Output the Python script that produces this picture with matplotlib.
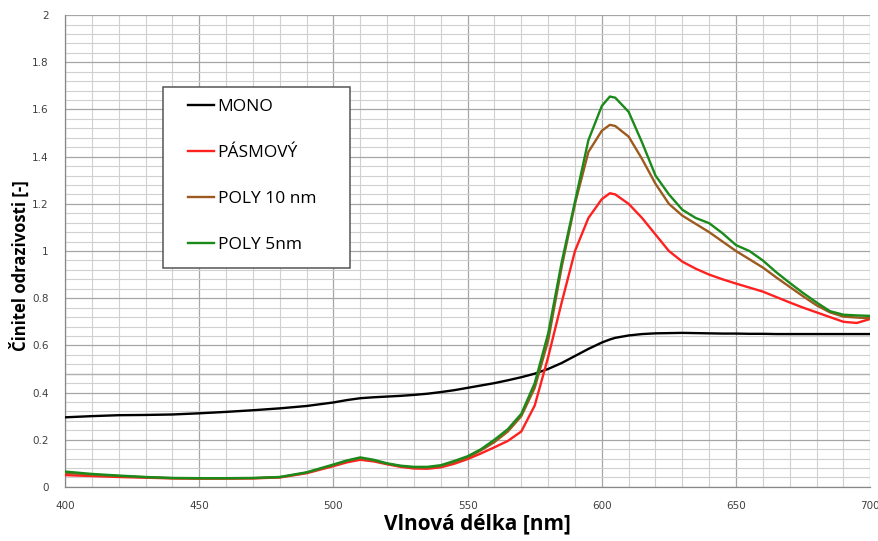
import numpy as np
import matplotlib
matplotlib.use("Agg")
import matplotlib.pyplot as plt
from matplotlib.ticker import MultipleLocator
from matplotlib.patches import Rectangle

# vlnova delka [nm]
wl = [400, 410, 420, 430, 440, 450, 460, 470, 480, 490, 500, 505, 510, 515, 520,
      525, 530, 535, 540, 545, 550, 555, 560, 565, 570, 575, 580, 585, 590, 595,
      600, 603, 605, 610, 615, 620, 625, 630, 635, 640, 645, 650, 655, 660, 665,
      670, 675, 680, 685, 690, 695, 700]

mono = [0.295, 0.300, 0.304, 0.305, 0.307, 0.312, 0.318, 0.325, 0.333, 0.343, 0.358,
        0.368, 0.376, 0.380, 0.383, 0.386, 0.390, 0.395, 0.402, 0.410, 0.420, 0.430,
        0.440, 0.452, 0.465, 0.480, 0.500, 0.525, 0.555, 0.585, 0.612, 0.625, 0.632,
        0.642, 0.648, 0.651, 0.652, 0.653, 0.652, 0.651, 0.650, 0.650, 0.649, 0.649,
        0.648, 0.648, 0.648, 0.648, 0.648, 0.648, 0.648, 0.648]

pasmovy = [0.050, 0.046, 0.042, 0.039, 0.036, 0.035, 0.035, 0.036, 0.040, 0.058, 0.088,
           0.104, 0.115, 0.108, 0.096, 0.085, 0.078, 0.077, 0.083, 0.098, 0.118, 0.142,
           0.168, 0.195, 0.235, 0.345, 0.550, 0.780, 1.000, 1.140, 1.220, 1.245, 1.240,
           1.200, 1.140, 1.070, 1.000, 0.955, 0.925, 0.900, 0.880, 0.862, 0.845, 0.828,
           0.805, 0.782, 0.760, 0.740, 0.720, 0.700, 0.695, 0.712]

poly10 = [0.060, 0.052, 0.046, 0.041, 0.037, 0.036, 0.036, 0.037, 0.041, 0.060, 0.092,
          0.110, 0.122, 0.112, 0.098, 0.088, 0.082, 0.082, 0.088, 0.105, 0.125, 0.155,
          0.190, 0.235, 0.300, 0.420, 0.620, 0.930, 1.200, 1.420, 1.510, 1.535, 1.530,
          1.485, 1.390, 1.285, 1.200, 1.150, 1.115, 1.080, 1.040, 1.000, 0.965, 0.930,
          0.888, 0.848, 0.808, 0.770, 0.740, 0.722, 0.718, 0.715]

poly5 = [0.065, 0.055, 0.048, 0.042, 0.038, 0.037, 0.037, 0.038, 0.042, 0.062, 0.095,
         0.112, 0.125, 0.115, 0.100, 0.090, 0.085, 0.085, 0.092, 0.110, 0.130, 0.160,
         0.200, 0.245, 0.310, 0.440, 0.650, 0.950, 1.210, 1.470, 1.615, 1.655, 1.650,
         1.590, 1.460, 1.320, 1.240, 1.175, 1.140, 1.118, 1.075, 1.025, 1.000, 0.960,
         0.910, 0.865, 0.822, 0.782, 0.745, 0.730, 0.727, 0.725]

series = [("MONO", mono, "black"), ("PÁSMOVÝ", pasmovy, "#ff2020"),
          ("POLY 10 nm", poly10, "#9c5a1e"), ("POLY 5nm", poly5, "#1a8a1a")]

y_ticks = [0, 0.2, 0.4, 0.6, 0.8, 1, 1.2, 1.4, 1.6, 1.8, 2]
y_labels = ["0", "0.2", "0.4", "0.6", "0.8", "1", "1.2", "1.4", "1.6", "1.8", "2"]
x_ticks = [400, 450, 500, 550, 600, 650, 700]

fig = plt.figure(figsize=(8.79, 5.41), dpi=100)
ax = fig.add_axes([0.074, 0.1, 0.916, 0.872])

for name, vals, col in series:
    ax.plot(wl, vals, color=col, lw=1.7, label=name, zorder=3)

ax.set_xlim(400, 700)
ax.set_ylim(0, 2)
ax.set_xticks(x_ticks)
ax.set_yticks(y_ticks)
ax.set_yticklabels(y_labels)
ax.xaxis.set_minor_locator(MultipleLocator(10))
ax.yaxis.set_minor_locator(MultipleLocator(0.04))
ax.grid(which="major", color="#a6a6a6", lw=0.9)
ax.grid(which="minor", color="#d0d0d0", lw=0.8)
ax.axhline(0.48, color="#b0b0b0", lw=1.0, zorder=1)
ax.set_axisbelow(True)

for s in ["top", "right"]:
    ax.spines[s].set_visible(False)
for s in ["left", "bottom"]:
    ax.spines[s].set_color("#888888")
    ax.spines[s].set_linewidth(0.9)

ax.tick_params(which="both", length=0, labelsize=7.5, labelcolor="#404040", pad=10)
ax.tick_params(axis="y", pad=12)

ax.set_xlabel("Vlnová délka [nm]", fontsize=15, fontweight="bold", family="Open Sans")
ax.xaxis.set_label_coords(0.512, -0.056)
ax.set_ylabel("Činitel odrazivosti [-]", fontsize=12, fontweight="bold", family="Open Sans")
ax.yaxis.set_label_coords(-0.044, 0.47)

# ramecek legendy
box = Rectangle((0.1217, 0.464), 0.2323, 0.3835, transform=ax.transAxes, facecolor="white",
                edgecolor="#555555", lw=1.1, zorder=4)
ax.add_patch(box)
leg = ax.legend(loc="upper left", bbox_to_anchor=(0.153, 0.822), frameon=False,
                prop={"family": "Open Sans", "size": 12.5},
                labelspacing=1.72, handlelength=1.5, handletextpad=0.2,
                borderpad=0, borderaxespad=0)
leg.set_zorder(5)

fig.savefig("out.png", dpi=100)
